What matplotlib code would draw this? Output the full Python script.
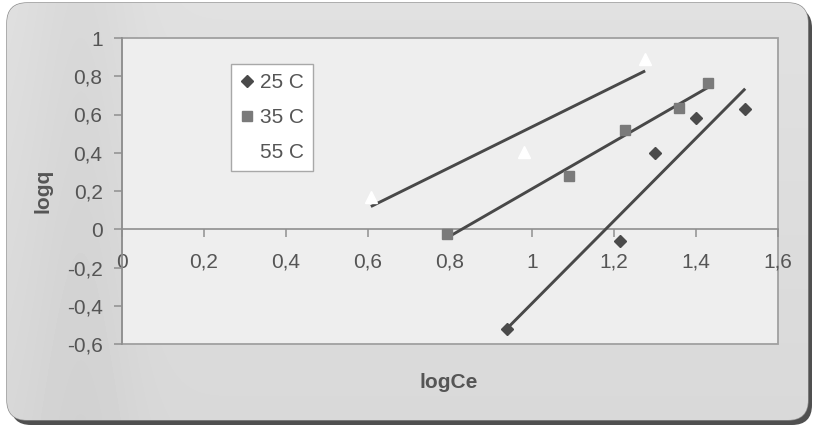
import numpy as np
import matplotlib
matplotlib.use("Agg")
import matplotlib.pyplot as plt
from matplotlib.patches import FancyBboxPatch, Rectangle

plt.rcParams['font.family'] = ['Liberation Sans', 'DejaVu Sans']

# Freundlich isotherm data: log of equilibrium concentration vs log of uptake
log_ce_25 = [0.94, 1.215, 1.30, 1.40, 1.52]
log_q_25 = [-0.52, -0.06, 0.40, 0.58, 0.63]
log_ce_35 = [0.793, 1.09, 1.227, 1.359, 1.429]
log_q_35 = [-0.026, 0.277, 0.518, 0.633, 0.764]
log_ce_55 = [0.607, 0.98, 1.276]
log_q_55 = [0.168, 0.403, 0.89]
series_labels = ['25 C', '35 C', '55 C']

x_ticks = [0, 0.2, 0.4, 0.6, 0.8, 1.0, 1.2, 1.4, 1.6]
y_ticks = [-0.6, -0.4, -0.2, 0, 0.2, 0.4, 0.6, 0.8, 1.0]

W, H = 815, 432
fig = plt.figure(figsize=(W / 100, H / 100), dpi=100)
fig.patch.set_facecolor('white')

# Chart-area background: rounded panel with dark drop shadow and soft gradient
bg = fig.add_axes([0, 0, 1, 1], zorder=-5)
bg.set_xlim(0, W)
bg.set_ylim(H, 0)
bg.axis('off')

shadow = FancyBboxPatch((11, 8), W - 14, H - 15,
                        boxstyle="round,pad=0,rounding_size=20",
                        fc='#505050', ec='none')
bg.add_patch(shadow)
panel = FancyBboxPatch((7, 3), W - 14, H - 15,
                       boxstyle="round,pad=0,rounding_size=20",
                       fc='#d8d8d8', ec='#8c8c8c', lw=1.0)
bg.add_patch(panel)

gx = np.linspace(0, 1, 200)
gy = np.linspace(0, 1, 100)
GX, GY = np.meshgrid(gx, gy)
shade = 0.85 + 0.03 * (1 - GY) - 0.03 * np.exp(-((GX - 0.09) / 0.07) ** 2)
grad = bg.imshow(shade, cmap='gray', vmin=0, vmax=1, extent=(7, W - 7, H - 12, 3),
                 aspect='auto', zorder=1, interpolation='bilinear')
grad.set_clip_path(panel)

# Plot area
ax = fig.add_axes([122 / W, 1 - 344 / H, 656 / W, 306 / H])
ax.set_facecolor('#eeeeee')
ax.set_xlim(0, 1.6)
ax.set_ylim(-0.6, 1.0)

for s in ('top', 'right'):
    ax.spines[s].set_visible(False)
ax.spines['bottom'].set_position(('data', 0))
ax.spines['left'].set_position(('data', 0))
for s in ('bottom', 'left'):
    ax.spines[s].set_color('#8f8f8f')
    ax.spines[s].set_linewidth(1.2)
ax.add_patch(Rectangle((0, 0), 1, 1, transform=ax.transAxes, fill=False,
                       ec='#a0a0a0', lw=1.3, clip_on=False, zorder=0.5))


def comma(v):
    return f"{v:g}".replace('.', ',')


ax.set_xticks(x_ticks)
ax.set_xticklabels([comma(v) for v in x_ticks])
ax.set_yticks(y_ticks)
ax.set_yticklabels([comma(v) for v in y_ticks])
ax.tick_params(axis='both', direction='out', length=6, width=1.1, color='#8f8f8f',
               labelsize=15, labelcolor='#555555')
ax.tick_params(axis='x', pad=11)
ax.tick_params(axis='y', pad=8)

# Series markers
ax.plot(log_ce_25, log_q_25, ls='none', marker='D', ms=6, mfc='#4a4a4a',
        mec='#4a4a4a', label=series_labels[0], zorder=4)
ax.plot(log_ce_35, log_q_35, ls='none', marker='s', ms=7, mfc='#7a7a7a',
        mec='#7a7a7a', label=series_labels[1], zorder=4)
ax.plot(log_ce_55, log_q_55, ls='none', marker='^', ms=8, mfc='white',
        mec='white', label=series_labels[2], zorder=4)

# Linear trendlines across each series' data range
for xs, ys in ((log_ce_25, log_q_25), (log_ce_35, log_q_35), (log_ce_55, log_q_55)):
    xs = np.asarray(xs)
    k, b = np.polyfit(xs, np.asarray(ys), 1)
    xl = np.array([xs.min(), xs.max()])
    ax.plot(xl, k * xl + b, color='#484848', lw=2.1, zorder=3, solid_capstyle='butt')

leg = ax.legend(loc='upper left', bbox_to_anchor=(0.166, 0.915), borderaxespad=0,
                fontsize=15, frameon=True, fancybox=False, framealpha=1,
                facecolor='white', edgecolor='#a8a8a8', handlelength=0.6,
                handletextpad=0.35, labelspacing=0.75, borderpad=0.45)
for t in leg.get_texts():
    t.set_color('#555555')
leg.get_frame().set_linewidth(1.0)

fig.text(449 / W, 1 - 383 / H, 'logCe', fontsize=15, fontweight='bold',
         color='#555555', ha='center', va='center')
fig.text(43 / W, 1 - 191 / H, 'logq', fontsize=15, fontweight='bold',
         color='#555555', ha='center', va='center', rotation=90)

fig.savefig('out.png', dpi=100)
